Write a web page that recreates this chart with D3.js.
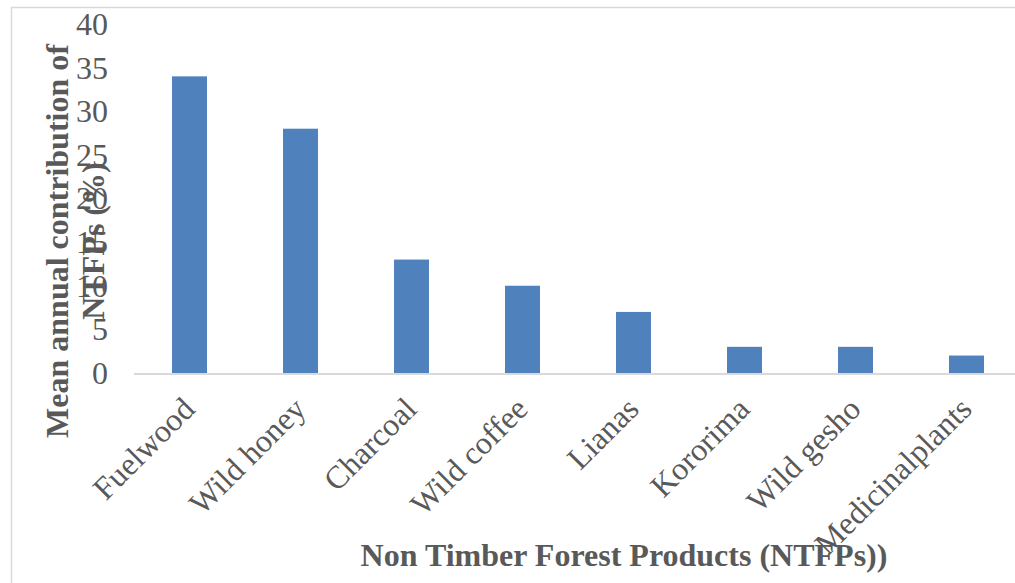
<!DOCTYPE html>
<html><head><meta charset="utf-8">
<script src="https://cdn.jsdelivr.net/npm/d3@7"></script>
<style>html,body{margin:0;padding:0;background:#fff;overflow:hidden}</style>
</head><body>
<svg id="c" width="1015" height="583"></svg>
<script>
const categories = ["Fuelwood","Wild honey","Charcoal","Wild coffee","Lianas","Kororima","Wild gesho","Medicinalplants"];
const values = [34,28,13,10,7,3,3,2];
const yTicks = [0,5,10,15,20,25,30,35,40];
const yTitleLines = ["Mean annual contribution of","NTFPs (%)"];
const xTitle = "Non Timber Forest Products (NTFPs))";

const svg = d3.select("#c");
const font = "'Liberation Serif','Times New Roman',serif";
const grey = "#595959";

// chart border
svg.append("rect").attr("x",11.5).attr("y",7.5).attr("width",1100).attr("height",700)
  .attr("fill","none").attr("stroke","#d9d9d9").attr("stroke-width",1.5);

const x = d3.scaleBand().domain(categories).range([134,1022]).paddingInner(0.685).paddingOuter(0.3425);
const y = d3.scaleLinear().domain([0,40]).range([373,24]);

svg.append("g").selectAll("rect").data(values).join("rect")
  .attr("x",(d,i)=>x(categories[i]))
  .attr("width",x.bandwidth())
  .attr("y",d=>y(d))
  .attr("height",d=>y(0)-y(d))
  .attr("fill","#4f81bd");

// x axis line
svg.append("line").attr("x1",134).attr("x2",1015).attr("y1",y(0)+1).attr("y2",y(0)+1)
  .attr("stroke","#d9d9d9").attr("stroke-width",2);

// y tick labels
svg.append("g").selectAll("text").data(yTicks).join("text")
  .attr("x",108).attr("y",d=>y(d)).attr("dy","0.34em")
  .attr("text-anchor","end").attr("font-family",font).attr("font-size",32).attr("fill",grey)
  .text(d=>d);

// x labels
svg.append("g").selectAll("text").data(categories).join("text")
  .attr("transform",d=>`translate(${x(d)+x.bandwidth()/2+7},${y(0)+38}) rotate(-45)`)
  .attr("text-anchor","end").attr("font-family",font).attr("font-size",32).attr("fill",grey)
  .text(d=>d);

// y title
svg.append("text").attr("transform","translate(0,241) rotate(-90)")
  .attr("text-anchor","middle").attr("font-family",font).attr("font-size",32)
  .attr("font-weight","bold").attr("fill",grey)
  .selectAll("tspan").data(yTitleLines).join("tspan")
  .attr("x",0).attr("y",(d,i)=>68+i*36).text(d=>d);

// x title
svg.append("text").attr("x",624).attr("y",566).attr("text-anchor","middle")
  .attr("font-family",font).attr("font-size",32).attr("font-weight","bold").attr("fill",grey)
  .text(xTitle);
</script>
</body></html>
